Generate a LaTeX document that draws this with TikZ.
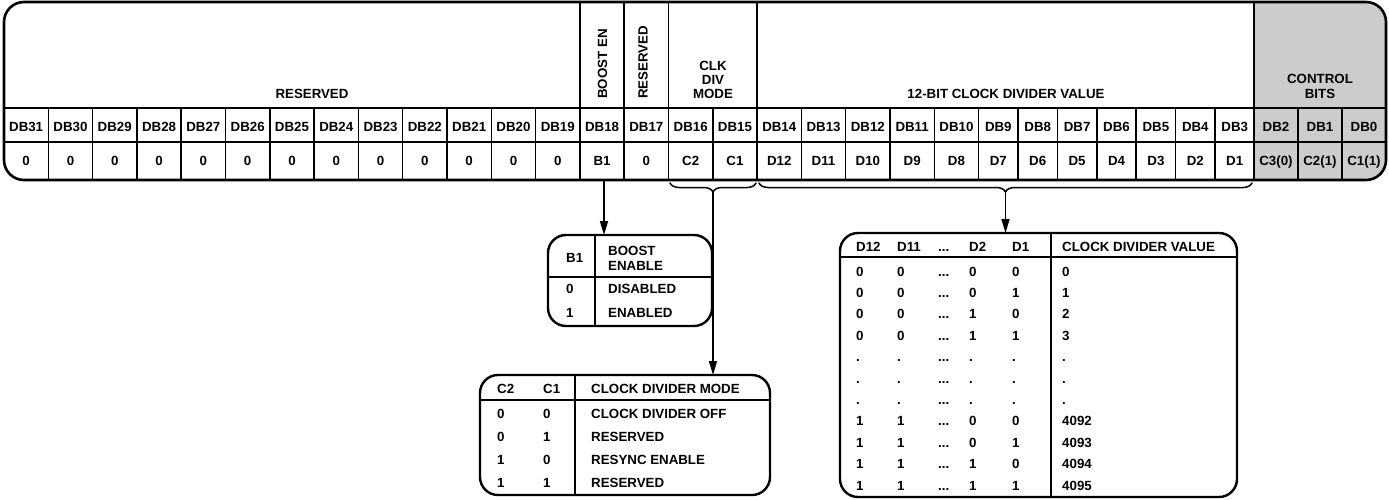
\documentclass[tikz,border=0pt]{standalone}
\usepackage{fontspec}
\setmainfont{Liberation Sans}
\usetikzlibrary{arrows.meta,decorations.pathreplacing}
\definecolor{ctrlgray}{HTML}{CCCCCC}
\newcommand{\tdots}{...}

\tikzset{
  lbl/.style={font=\bfseries\fontsize{13.3}{15}\selectfont, inner sep=0pt},
  lft/.style={lbl, anchor=base west},
  mid/.style={lbl, anchor=base},
  cell/.style={line width=1.5pt},
  regbox/.style={line width=2.6pt, rounded corners=20pt},
  tblbox/.style={line width=2.4pt, rounded corners=18pt},
  arr/.style={line width=1.5pt, -{Triangle[length=14pt,width=8pt]}},
  brc/.style={line width=1.5pt, decorate, decoration={brace, mirror, amplitude=9pt}},
}

\begin{document}
\begin{tikzpicture}[x=1pt, y=-1pt, line cap=round, line join=round]
\useasboundingbox (0,0) rectangle (1389,499);

% control bits shading
\begin{scope}
  \clip[rounded corners=20pt] (4,2) rectangle (1386,180);
  \fill[ctrlgray] (1254,0) rectangle (1390,182);
\end{scope}

% bit cells
\foreach \n/\v [count=\k from 0] in {31/0,30/0,29/0,28/0,27/0,26/0,25/0,24/0,23/0,22/0,21/0,20/0,19/0,18/B1,17/0,16/C2,15/C1,14/D12,13/D11,12/D10,11/D9,10/D8,9/D7,8/D6,7/D5,6/D4,5/D3,4/D2,3/D1,2/{C3(0)},1/{C2(1)},0/{C1(1)}} {
  \pgfmathsetmacro\xl{\k<22 ? 4+44.3*\k : (\k<29 ? 978.6+39.4*(\k-22) : 1254+44*(\k-29))}
  \pgfmathsetmacro\cwid{\k<22 ? 44.3 : (\k<29 ? 39.4 : 44)}
  \node[mid] (db\n) at (\xl+\cwid/2,131) {DB\n};
  \node[mid] (val\n) at (\xl+\cwid/2,165) {\v};
  \ifnum\k>0 \draw[cell] (\xl,108) -- (\xl,180); \fi
}
\draw[cell] (4,108) -- (1386,108);
\draw[cell] (4,142) -- (1386,142);
\foreach \x in {579.9,624.2,668.5,757.1,1254} \draw[cell] (\x,2) -- (\x,108);

% field names
\node[mid] (hres) at (312,98.5) {RESERVED};
\node[lbl, rotate=90, anchor=base west] (hboost) at (607,99) {BOOST EN};
\node[lbl, rotate=90, anchor=base west] (hres17) at (647.5,99) {RESERVED};
\foreach \t [count=\i from 0] in {CLK,DIV,MODE} \node[mid] (hclk\i) at (713,70+14*\i) {\t};
\node[mid] (hdiv) at (1006,98.5) {12-BIT CLOCK DIVIDER VALUE};
\node[mid] (hctl1) at (1320,83) {CONTROL};
\node[mid] (hctl2) at (1320,98) {BITS};

\draw[regbox] (4,2) rectangle (1386,180);

% braces and arrows
\draw[brc] (670,183) -- (756,183);
\draw[brc] (759,183) -- (1252,183);
\coordinate (b1src) at (604,180);
\coordinate (cbrace) at (713,192);
\coordinate (dbrace) at (1005.5,192);
\coordinate (tblB) at (604,235);
\coordinate (tblC) at (713,375);
\coordinate (tblD) at (1005.5,233);
\draw[arr] (b1src) -- (tblB);
\draw[arr] (cbrace) -- (tblC);
\draw[arr] (dbrace) -- (tblD);

% boost enable table
\draw[tblbox] (548,235) rectangle (712,326);
\draw[cell] (595,235) -- (595,326);
\draw[cell] (548,277) -- (712,277);
\node[lft] (bh1) at (566,262) {B1};
\node[lft] (bh2) at (608,255) {BOOST};
\node[lft] (bh3) at (608,270) {ENABLE};
\node[lft] (b0) at (566,293) {0};
\node[lft] (bt0) at (608,293) {DISABLED};
\node[lft] (b1) at (566,317) {1};
\node[lft] (bt1) at (608,317) {ENABLED};

% clock divider mode table
\draw[tblbox] (480,375) rectangle (770,495);
\draw[cell] (575,375) -- (575,495);
\draw[cell] (480,400) -- (770,400);
\node[lft] (ch2) at (497,393) {C2};
\node[lft] (ch1) at (543,393) {C1};
\node[lft] (chm) at (591,393) {CLOCK DIVIDER MODE};
\foreach \a/\b/\t [count=\i from 0] in {0/0/CLOCK DIVIDER OFF,0/1/RESERVED,1/0/RESYNC ENABLE,1/1/RESERVED} {
  \node[lft] (ca\i) at (497,418+23*\i) {\a};
  \node[lft] (cb\i) at (543,418+23*\i) {\b};
  \node[lft] (ct\i) at (591,418+23*\i) {\t};
}

% clock divider value table
\draw[tblbox] (840,233) rectangle (1237,497);
\draw[cell] (1051,233) -- (1051,497);
\draw[cell] (840,257) -- (1237,257);
\foreach \x/\t [count=\i] in {856/D12,897/D11,938/\tdots,969/D2,1012/D1,1062/CLOCK DIVIDER VALUE}
  \node[lft] (dh\i) at (\x,251) {\t};
\foreach \ua/\ub/\uc/\ud/\uv [count=\i from 0] in {0/0/0/0/0,0/0/0/1/1,0/0/1/0/2,0/0/1/1/3,./././././.,./././././.,./././././.,1/1/0/0/4092,1/1/0/1/4093,1/1/1/0/4094,1/1/1/1/4095} {
  \node[lft] (dra\i) at (856,276+21.4*\i) {\ua};
  \node[lft] (drb\i) at (897,276+21.4*\i) {\ub};
  \node[lft] (drd\i) at (938,276+21.4*\i) {\tdots};
  \node[lft] (drc\i) at (969,276+21.4*\i) {\uc};
  \node[lft] (dre\i) at (1012,276+21.4*\i) {\ud};
  \node[lft] (drv\i) at (1062,276+21.4*\i) {\uv};
}
\end{tikzpicture}
\end{document}
